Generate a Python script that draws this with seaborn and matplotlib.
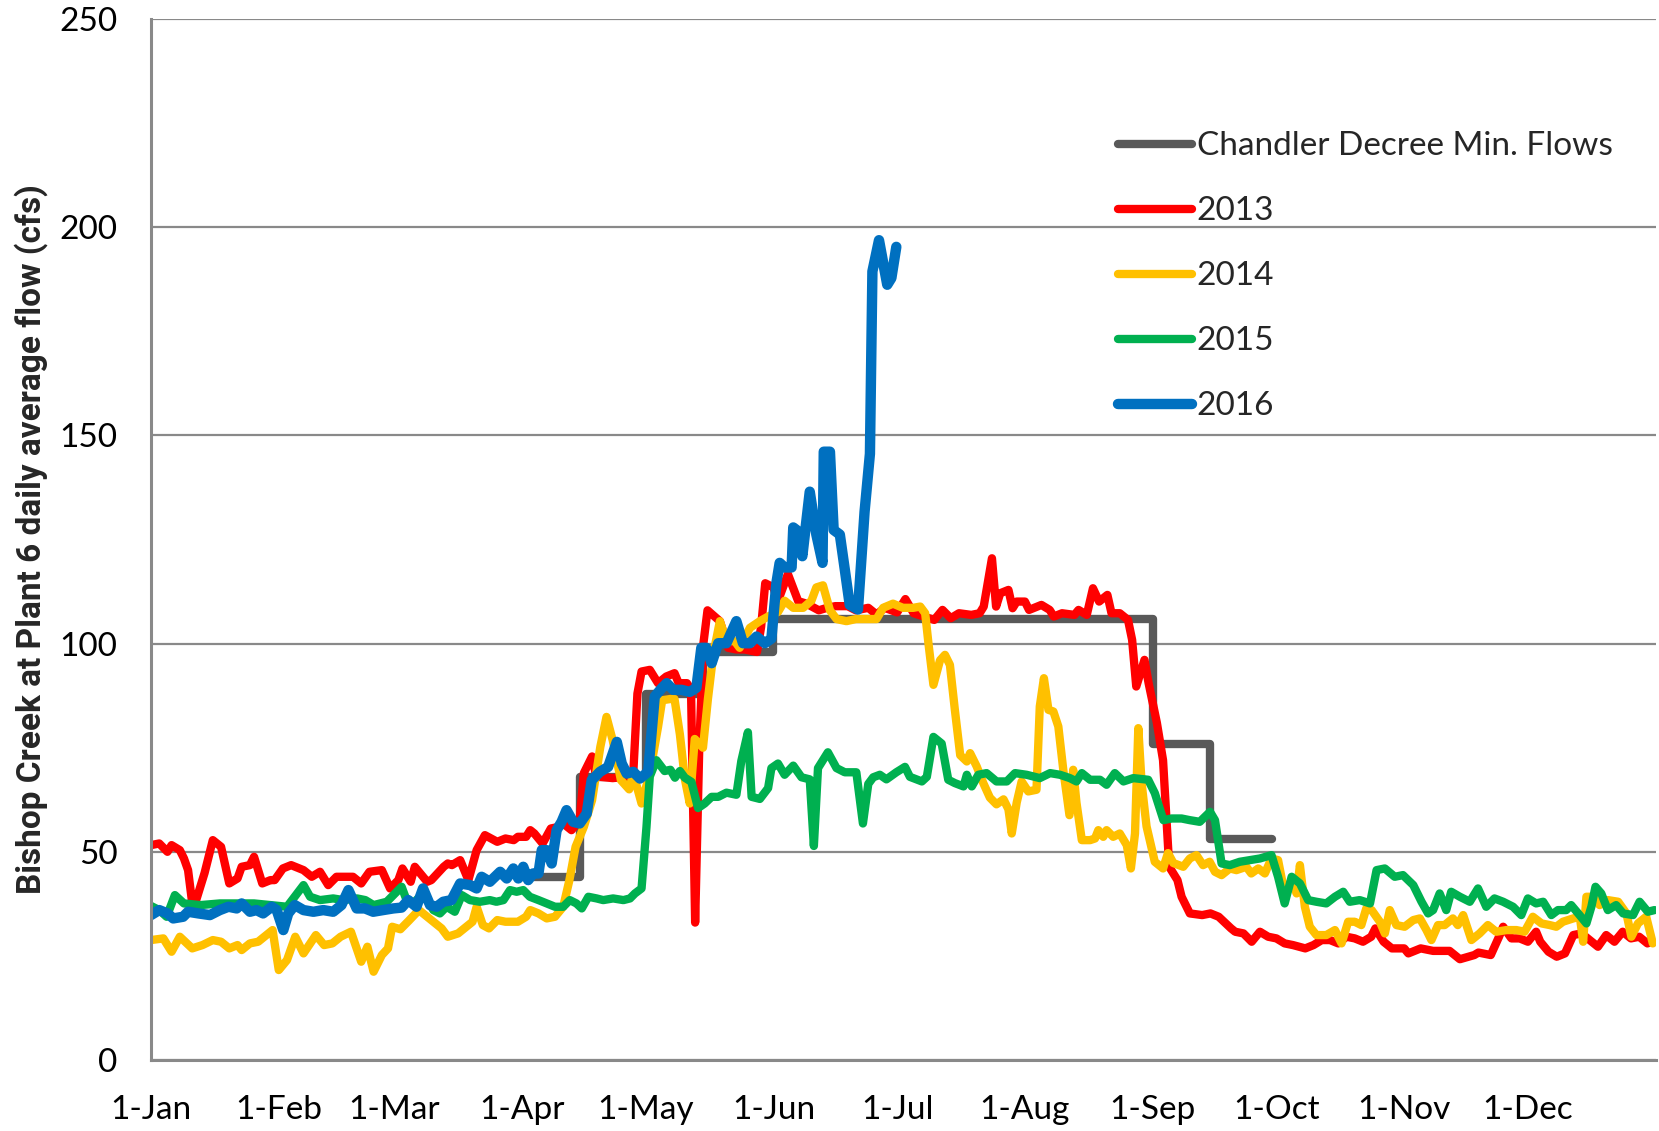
import matplotlib
matplotlib.use("Agg")
import matplotlib.pyplot as plt
import seaborn as sns

# x axis: day of year, labelled at the first of each month
month_days = [0, 31, 59, 90, 120, 151, 181, 212, 243, 273, 304, 334]
month_labels = ['1-Jan', '1-Feb', '1-Mar', '1-Apr', '1-May', '1-Jun',
                '1-Jul', '1-Aug', '1-Sep', '1-Oct', '1-Nov', '1-Dec']

# Chandler Decree minimum flows (step levels, cfs)
decree_days = [90, 104, 120, 134, 151, 243, 257, 272]
decree_flow = [44, 68, 88, 98, 106, 76, 53, 53]

days_2013 = [0, 2, 4, 5, 7, 8, 9, 10, 11, 13, 15, 17, 19, 21, 22, 24, 25, 27, 29, 30,
             32, 34, 37, 39, 41, 43, 45, 49, 51, 53, 56, 58, 60, 61, 63, 64, 67, 68, 71, 72,
             73, 75, 77, 79, 81, 84, 86, 88, 89, 91, 92, 93, 95, 97, 99, 100, 102, 104, 105, 107,
             108, 112, 116, 117, 118, 119, 121, 123, 125, 127, 128, 130, 131, 132, 133, 134, 135, 138, 140, 142,
             144, 147, 148, 149, 151, 152, 154.5, 157, 159, 162, 164, 166, 169, 171, 174, 176, 178, 181, 183, 185,
             190, 192, 194, 196, 199, 201, 202, 204, 205, 206, 208, 209, 210, 212, 213, 216, 218, 219, 221, 224,
             225, 227, 228.5, 230, 232, 233, 235, 237, 238, 239, 241, 242, 244, 245.5, 247, 249, 250, 252, 255, 257,
             259, 262, 263, 265, 267, 269, 271, 273, 275, 277, 280, 282, 284, 286, 288, 290, 292, 294, 296, 297,
             299, 301, 304, 305, 308, 311, 315, 317.5, 321, 322, 325, 327, 328, 330, 332, 334, 336, 337, 339, 341,
             343, 345, 347, 349, 351, 353, 355, 357, 359, 361, 363, 364]
flow_2013 = [51.6, 52, 50, 51.6, 50.4, 48.4, 45.6, 37.7, 38.5, 44.9, 52.8, 51.2, 42.4, 43.6, 46.4, 46.8, 48.8, 42.4, 43.2, 43.2,
             46, 46.8, 45.6, 44, 45.2, 42, 44, 44, 42.4, 45.2, 45.6, 41.2, 43.2, 46, 42.8, 46.4, 42.8, 43.2, 46.4, 47.2,
             46.8, 48, 43.2, 50.4, 54, 52.4, 53.2, 52.8, 53.6, 53.6, 55.2, 54.4, 52, 55.6, 56, 56.8, 55.2, 57.6, 68.9, 72.9,
             68.1, 67.7, 68.1, 69, 88, 93.3, 93.7, 90.5, 92.1, 92.9, 90.5, 90.5, 89, 33, 75, 100, 108, 105.4, 99, 98.6,
             98.6, 98, 104, 114.5, 113.5, 110, 116.7, 110.2, 109.6, 108, 108.6, 109, 109, 108, 108.6, 107, 108.6, 107.5, 110.7, 107.3,
             105.7, 108.1, 106.1, 107.3, 106.9, 107.3, 108.9, 120.5, 108.9, 112.1, 112.9, 108.5, 110.1, 110.1, 108.1, 109.3, 108.1, 106.5, 107.3, 106.9,
             108.1, 106.9, 113.3, 110.1, 111.7, 107.3, 107.3, 105.7, 100.9, 89.7, 96.1, 90.5, 81, 72, 46.4, 43.2, 39.2, 35.2, 34.8, 35.2,
             34.4, 31.6, 30.8, 30.4, 28.4, 30.8, 29.6, 29.2, 28, 27.6, 26.8, 27.6, 28.8, 28.8, 28, 29.6, 29.2, 28.4, 29.6, 31.6,
             28.4, 26.8, 26.8, 25.6, 26.8, 26.2, 26.2, 24.2, 25.2, 25.8, 25.2, 29.6, 32, 29.2, 29.2, 28.4, 30.8, 28.4, 26, 24.8,
             25.6, 30, 30.4, 28.8, 27.2, 30, 28.4, 30.8, 29.2, 29.6, 28, 28.5]

days_2014 = [0, 3, 5, 7, 10, 12.5, 15, 17, 19, 21, 22, 24, 26, 28, 29.5, 31, 33, 35, 37, 40,
             42, 44, 46, 48.5, 51, 52.5, 54, 56, 57.5, 58.5, 60.5, 62.5, 65, 68.5, 70.5, 72, 74.5, 76, 78, 79,
             80.5, 82, 84, 86, 89, 91, 92, 94, 96, 98, 100, 101.5, 103, 105, 107, 109, 110.5, 112, 114, 116,
             117, 119, 121, 123, 124, 126, 127, 128.3, 129.5, 130.7, 131.9, 133.9, 135.1, 136.4, 138, 139.6, 141.6, 142.8, 145.3, 147.7,
             149.7, 152.1, 153.7, 155.8, 158.2, 160.2, 161.4, 163, 164.7, 166.3, 168.7, 171, 173.5, 176, 177.6, 180, 182.4, 184.9, 186.6, 187.8,
             188.6, 189.8, 191.4, 192.6, 193.8, 195, 196.3, 197.9, 198.7, 200.3, 201.9, 203.5, 205.1, 206.8, 208, 208.8, 210, 211.2, 212.8, 214.8,
             215.6, 216.6, 217.7, 218.9, 220.1, 221.3, 222.8, 223.7, 224.5, 225.8, 227.8, 229, 229.8, 231, 231.8, 233.4, 235, 236.7, 237.7, 238.7,
             239.5, 240.3, 241.5, 243.5, 245.5, 246.7, 248, 250.4, 252, 253.6, 255.2, 256.8, 258.1, 259.7, 261.7, 263.3, 265.7, 266.9, 268.6, 270.2,
             271.8, 273.4, 275, 276.7, 277.9, 278.7, 279.9, 281.1, 282.7, 285.1, 287.2, 288.8, 290.4, 292, 293.6, 294.8, 296.1, 298.1, 299.3, 300.5,
             302.1, 304.1, 306.2, 307.8, 309.4, 310.6, 312.2, 313.8, 315.8, 317, 318.3, 320.3, 322.3, 324.3, 326.3, 328.8, 331.2, 333.2, 335.2, 337.3,
             339.3, 340.9, 342.5, 345, 346.6, 347.4, 348.2, 349.8, 351.4, 353.4, 355.9, 357.9, 359.1, 360.7, 362.7, 364.3]
flow_2014 = [28.8, 29.2, 26, 29.6, 26.8, 27.6, 28.8, 28.4, 26.8, 27.6, 26.4, 28, 28.4, 30, 31.2, 21.6, 24, 29.6, 25.6, 30,
             27.6, 28, 29.6, 30.8, 23.6, 27.2, 21.2, 25.2, 26.8, 32, 31.4, 33.4, 36, 33.2, 31.6, 29.6, 30.4, 31.6, 33.2, 36.8,
             32.4, 31.6, 33.6, 33.2, 33.2, 34.4, 36, 35.2, 34, 34.4, 36.8, 43.2, 51.2, 56, 62.4, 75.2, 82.4, 76.8, 67.2, 65,
             68.8, 61.6, 68.8, 80, 86.4, 86.7, 86.7, 78.2, 67.5, 61.6, 77.1, 75, 86.7, 97.4, 105.4, 100.6, 100.6, 99, 103.8, 105.4,
             106.5, 107.6, 110.3, 108.6, 108.6, 110.3, 113.5, 114, 108, 105.9, 105.4, 105.9, 105.9, 105.9, 108.6, 109.6, 108.6, 108.6, 108.9, 107.3,
             100, 90.1, 96, 97.3, 94.9, 84.1, 73.2, 71.7, 73.7, 70.5, 66.5, 63, 61.4, 62.6, 60.2, 54.4, 61.8, 66.9, 64.5, 64.9,
             84.9, 91.7, 84.1, 83.7, 80.1, 69.7, 58.8, 69.7, 61.8, 52.8, 52.8, 53.2, 55.2, 53.6, 55.2, 53.6, 54.4, 51.6, 46, 54.4,
             79.7, 66.5, 56.1, 47.6, 46, 49.7, 47.3, 46.4, 48.4, 49.2, 46.8, 47.6, 45.2, 44.4, 46, 45.6, 46.4, 44.8, 46, 44.8,
             48.4, 48, 40, 43.2, 40, 46.8, 36.8, 32, 30, 30, 31.2, 28, 33.2, 33.2, 32.4, 36.4, 36, 33.2, 30.4, 36,
             32.4, 32, 33.6, 34, 31.2, 28.8, 32.4, 32.4, 34, 32.4, 34.8, 28.8, 30.4, 32.4, 30.8, 31.2, 31.2, 30.8, 34.4, 32.8,
             32.4, 32, 33.2, 34, 34.4, 28.4, 39.2, 39.2, 37.2, 38.4, 38, 35.2, 29.6, 32.8, 34.4, 28]

days_2015 = [0, 2, 3.8, 5.8, 8, 12, 16.7, 21, 25, 29, 33, 37, 38.6, 41, 44.2, 46.7, 50, 52, 54, 57.2,
             60.8, 62, 63.6, 66, 68.5, 70.1, 71.7, 73.7, 75.4, 77.4, 79.8, 82.2, 83.8, 85.5, 87.1, 88.7, 90.3, 91.9, 94, 96,
             98, 100, 101.6, 103.2, 104.5, 106.1, 108.1, 109.7, 112.1, 114.6, 116.2, 117.4, 119, 120.2, 121, 122.6, 124.6, 126, 127.1, 128.3,
             129.5, 131.1, 132.7, 134.3, 136, 137.6, 139.6, 142, 143.2, 144.8, 145.7, 147.7, 149.7, 150.5, 152.1, 153.7, 155.8, 157.8, 159.8, 160.8,
             161.8, 164.2, 166.3, 168.3, 171.1, 172.7, 174, 175.2, 176.8, 178.4, 180.8, 182.9, 184.1, 187, 188.2, 189.8, 191.8, 193.4, 195, 197.1,
             197.9, 199.1, 200.7, 202.7, 205.1, 207.6, 209.6, 212.4, 215.6, 218.1, 220.5, 222.9, 224.5, 225.8, 227.8, 230.2, 231.8, 233.8, 235.9, 238.3,
             241.9, 243.5, 245.6, 247.6, 250, 252, 254.4, 256.9, 258.1, 259.7, 261.7, 264.1, 266.6, 269, 271.8, 273.4, 275, 276.7, 278.7, 280.7,
             282.7, 285.1, 287.2, 289.2, 290.8, 293.2, 295.7, 297.3, 299.3, 301.7, 303.7, 306.2, 308.2, 309.8, 311, 312.6, 314.2, 315.4, 317.5, 319.9,
             321.9, 323.9, 325.9, 328, 330.4, 332.4, 334, 336, 337.7, 339.7, 341.3, 343.3, 344.5, 346.2, 348.2, 349.4, 350.4, 351.8, 353.4, 355.4,
             357.1, 359.5, 361.1, 363.1, 364.7]
flow_2015 = [37, 36, 34.4, 39.6, 37.6, 37.2, 37.6, 37.6, 37.6, 37.2, 36.8, 42, 39.2, 38.4, 38.8, 38.4, 38.8, 38.4, 37.2, 38,
             41.6, 38.4, 37.6, 40, 36, 35.2, 36.8, 35.6, 39.6, 38.4, 38, 38.4, 38, 38.4, 40.8, 40.4, 40.8, 39.2, 38.4, 37.6,
             36.8, 36.8, 38.4, 37.6, 36.4, 39.2, 38.8, 38.4, 38.8, 38.4, 38.8, 40, 41.2, 56, 68.1, 72, 69.4, 69.7, 67.8, 69.4,
             67.8, 66.8, 60.5, 61.6, 63.2, 63.2, 64.2, 63.7, 71.8, 78.7, 63.2, 62.7, 65.3, 70.1, 71.2, 68.5, 70.7, 67.9, 67.4, 51.4,
             70.1, 73.9, 70.1, 69.1, 69.1, 56.8, 66.3, 67.9, 68.5, 67.4, 69.1, 70.4, 68, 66.9, 68, 77.6, 76, 67.3, 66.5, 65.7,
             68.5, 65.7, 68.5, 68.9, 66.9, 66.9, 68.9, 68.5, 67.7, 68.9, 68.5, 67.7, 66.9, 68.9, 67.3, 67.3, 66.1, 68.9, 66.9, 67.7,
             67.3, 64.1, 57.6, 58, 58, 57.6, 57.2, 59.6, 57.6, 47.2, 46.8, 47.6, 48, 48.4, 49.2, 44, 37.6, 44, 42.4, 38.4,
             38, 37.6, 39.2, 40.4, 38, 38.4, 37.6, 45.6, 46, 44, 44.4, 42, 38, 35.2, 36, 40, 36, 40.4, 39.2, 38,
             41.2, 36.8, 38.8, 38, 36.8, 34.8, 38.8, 37.6, 38, 34.8, 36, 36, 37.2, 35.2, 32.8, 36.8, 41.6, 40, 36, 37.2,
             35.2, 34.8, 38, 35.6, 36]

days_2016 = [0, 2, 4, 5.4, 7.8, 9, 11.5, 14.3, 16.7, 18.8, 20.8, 22, 24, 25.6, 27.2, 29.3, 30.5, 32.1, 33.3, 34.9,
             37, 39.4, 41.8, 44.2, 46.2, 47.9, 49.9, 51.9, 53.9, 56.3, 58.8, 60.8, 62.4, 64.4, 66, 67.7, 69.3, 70.9, 72.9, 75,
             77.4, 79, 80.2, 82.2, 84.7, 86.3, 87.9, 89.1, 90.3, 91.5, 92.7, 94, 94.8, 96, 97.2, 98.4, 99.6, 100.8, 102.4, 104,
             105.7, 106.9, 108.9, 110.9, 113, 114.2, 115.4, 117, 118.6, 120.6, 122.2, 123.9, 125.1, 126.7, 128.7, 130.7, 132.3, 133.5, 134.7, 136,
             137.6, 139.6, 142, 143.6, 145.3, 146.9, 148.9, 150.5, 151.7, 152.5, 153.7, 155.4, 155.8, 156.6, 158, 159.8, 161.4, 162.9, 163.2, 164.7,
             165.6, 167.1, 168.3, 169.5, 171.5, 173.1, 174.4, 175, 176.6, 178.6, 179.6, 180.8]
flow_2016 = [34.8, 36, 35.2, 34, 34.4, 35.6, 35.2, 34.8, 36, 36.8, 36.4, 37.6, 35.6, 36, 35.2, 36.8, 36, 31.2, 35.2, 37.2,
             36, 35.6, 36, 35.6, 37.2, 40.8, 36.4, 36.4, 35.6, 36, 36.4, 36.6, 38.4, 36.8, 41.2, 37.2, 36.8, 38, 38.4, 42.4,
             42, 41.2, 44, 42.8, 45.2, 43.6, 46, 43.6, 46.4, 43.2, 44.8, 44.8, 50.4, 50.4, 47.2, 55.2, 57.2, 60, 57.2, 56.8,
             59.2, 67.2, 69.2, 70.4, 76.4, 71.2, 68.8, 69.2, 67.6, 69.2, 87.3, 89.3, 90.5, 88.9, 88.9, 88.4, 89.4, 99, 99, 95.3,
             100.1, 100.1, 105.4, 100.1, 100.1, 101.7, 100.1, 101.2, 114.5, 119.4, 118.3, 118.3, 127.9, 127.3, 121, 136.5, 126.2, 119.4, 146.1, 146.1,
             127.3, 126.2, 117.8, 109.3, 108.2, 131.7, 145.6, 189.4, 196.9, 186.2, 187.8, 195.3]

sns.set_style("white")
plt.rcParams['font.family'] = ['Lato', 'DejaVu Sans']

fig = plt.figure(figsize=(16.59, 11.31), dpi=100)
ax = fig.add_axes([0.091, 0.0628, 0.907, 0.9203])

series = [
    ('Chandler Decree Min. Flows', decree_days, decree_flow, '#595959', 6),
    ('2013', days_2013, flow_2013, '#FF0000', 6),
    ('2014', days_2014, flow_2014, '#FFC000', 6),
    ('2015', days_2015, flow_2015, '#00B050', 6),
    ('2016', days_2016, flow_2016, '#0070C0', 7.5),
]
for name, d, f, color, lw in series:
    extra = {'drawstyle': 'steps-post'} if name.startswith('Chandler') else {}
    sns.lineplot(x=d, y=f, ax=ax, color=color, linewidth=lw, label=name,
                 estimator=None, sort=False, solid_joinstyle='round',
                 solid_capstyle='round', **extra)

ax.set_xlim(0, 365)
ax.set_ylim(0, 250)
ax.set_xticks(month_days)
ax.set_xticklabels(month_labels)
ax.set_yticks(range(0, 251, 50))
ax.tick_params(axis='both', length=0, labelsize=24, colors='black')
ax.tick_params(axis='x', pad=25)
ax.tick_params(axis='y', pad=24)
ax.yaxis.grid(True, color='#898989', linewidth=1.6)
ax.xaxis.grid(False)
for s in ['top', 'right']:
    ax.spines[s].set_visible(False)
for s in ['left', 'bottom']:
    ax.spines[s].set_color('#898989')
    ax.spines[s].set_linewidth(2.2)

ax.set_ylabel('Bishop Creek at Plant 6 daily average flow (cfs)',
              fontsize=24, fontweight='bold', family=['Roboto', 'DejaVu Sans'],
              labelpad=8)
ax.set_xlabel('')

ax.legend(loc='upper left', bbox_to_anchor=(0.634, 0.905), frameon=False,
          fontsize=24, handlelength=2.2, handletextpad=0.15,
          labelspacing=1.05, borderaxespad=0)

fig.savefig('out.png', dpi=100)
